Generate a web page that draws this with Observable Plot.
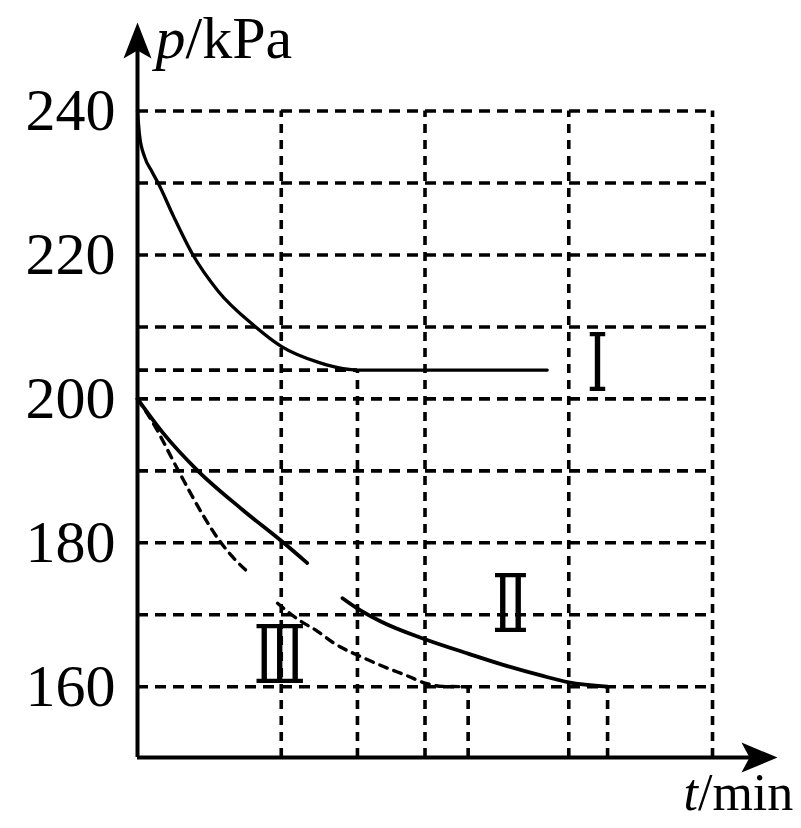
<!DOCTYPE html>
<html><head><meta charset="utf-8">
<script src="https://cdn.jsdelivr.net/npm/d3@7"></script>
<script src="https://cdn.jsdelivr.net/npm/@observablehq/plot@0.6"></script>
<style>html,body{margin:0;padding:0;background:#fff}</style>
</head><body><div id="chart"></div>
<script>
// ---- data ----
const yTicks = [160, 180, 200, 220, 240];
const gridP = [160, 170, 180, 190, 200, 210, 220, 230, 240];
const gridT = [1, 2, 3, 4];

// curve I
const tI = [0, 0.015, 0.05, 0.1, 0.146, 0.25, 0.38, 0.56, 0.81, 1.0, 1.27, 1.43, 1.53, 2.85];
const pI = [240, 236.5, 233.6, 231.6, 229.9, 225.4, 220.2, 215, 210.2, 207.3, 205, 204.2, 204, 204];
// curve II (solid, two pieces)
const tIIa = [0, 0.18, 0.42, 0.73, 1.016, 1.18];
const pIIa = [200, 195.2, 190, 184.6, 180, 177.2];
const tIIb = [1.426, 1.52, 1.7, 2.0, 2.3, 2.55, 2.8, 3.0, 3.27];
const pIIb = [172.3, 171.0, 169.0, 166.6, 164.6, 163.0, 161.6, 160.6, 160];
// curve III (dashed, two pieces)
const tIIIa = [0, 0.104, 0.285, 0.46, 0.577, 0.668, 0.786];
const pIIIa = [200, 196.8, 190, 183.7, 180.1, 177.9, 175.6];
const tIIIb = [0.974, 1.113, 1.252, 1.363, 1.572, 1.711, 1.878, 2.0, 2.12, 2.3];
const pIIIb = [171.6, 169.4, 167.7, 166.1, 164.0, 162.8, 161.5, 160.5, 160.05, 160];

// reference / drop lines
const plateauI = 204;
const dropT = [1.53, 2.30, 3.27];
const dropP = [204, 160, 160];

// curve labels
const labelText = ["Ⅰ", "Ⅱ", "Ⅲ"];
const labelT = [3.2, 2.595, 0.99];
const labelP = [205.2, 171.8, 164.75];

// scale extents
const xDomain = [0, 4.452];
const yDomain = [150.16, 252.31];

// ---- build ----
const rows = (ts, ps) => ts.map((t, i) => ({t, p: ps[i]}));
const drops = dropT.map((t, i) => ({t, p: dropP[i]}));
const labels = labelText.map((s, i) => ({s, t: labelT[i], p: labelP[i]}));

const arrowUp = {draw(ctx) { ctx.moveTo(0, 0); ctx.lineTo(14, 36); ctx.lineTo(0, 28); ctx.lineTo(-14, 36); ctx.closePath(); }};
const arrowRight = {draw(ctx) { ctx.moveTo(0, 0); ctx.lineTo(-36, -15); ctx.lineTo(-28, 0); ctx.lineTo(-36, 15); ctx.closePath(); }};

const gridStyle = {stroke: "#000", strokeWidth: 3.6};
const chart = Plot.plot({
  width: 801,
  height: 828,
  marginLeft: 137,
  marginRight: 24,
  marginTop: 22,
  marginBottom: 71,
  style: {fontFamily: "'Liberation Serif', 'DejaVu Serif', serif", fontSize: "60px", background: "#fff", color: "#000"},
  x: {domain: xDomain, axis: null},
  y: {domain: yDomain, ticks: yTicks, tickSize: 0, tickPadding: 22, label: null, tickFormat: d => String(d)},
  marks: [
    Plot.ruleY(gridP, {x1: 0, x2: 4, y: d => d, ...gridStyle, strokeDasharray: "11,7"}),
    Plot.ruleY([plateauI], {x1: 0, x2: dropT[0], y: d => d, ...gridStyle, strokeDasharray: "11,7"}),
    Plot.ruleX(gridT, {x: d => d, y1: yDomain[0], y2: 240, ...gridStyle, strokeDasharray: "9,7"}),
    Plot.ruleX(drops, {x: "t", y1: yDomain[0], y2: "p", ...gridStyle, strokeDasharray: "9,7"}),
    Plot.line(rows(tI, pI), {x: "t", y: "p", curve: "monotone-x", stroke: "#000", strokeWidth: 3.3}),
    Plot.line(rows(tIIa, pIIa), {x: "t", y: "p", curve: "monotone-x", stroke: "#000", strokeWidth: 3.8}),
    Plot.line(rows(tIIb, pIIb), {x: "t", y: "p", curve: "monotone-x", stroke: "#000", strokeWidth: 3.8}),
    Plot.line(rows(tIIIa, pIIIa), {x: "t", y: "p", curve: "monotone-x", stroke: "#000", strokeWidth: 3.4, strokeDasharray: "8,7"}),
    Plot.line(rows(tIIIb, pIIIb), {x: "t", y: "p", curve: "monotone-x", stroke: "#000", strokeWidth: 3.4, strokeDasharray: "8,7"}),
    Plot.ruleX([0], {y1: yDomain[0], y2: yDomain[1] - 2, stroke: "#000", strokeWidth: 4}),
    Plot.ruleY([yDomain[0]], {x1: 0, x2: xDomain[1] - 0.1, stroke: "#000", strokeWidth: 4}),
    Plot.dot([{t: 0, p: yDomain[1]}], {x: "t", y: "p", symbol: arrowUp, fill: "#000", stroke: "none"}),
    Plot.dot([{t: xDomain[1], p: yDomain[0]}], {x: "t", y: "p", symbol: arrowRight, fill: "#000", stroke: "none"}),
    Plot.text(labels, {x: "t", y: "p", text: "s", dy: 30, fontFamily: "'DejaVu Serif', serif", fontSize: 80, fill: "#000", className: "roman"}),
    Plot.text(["p/kPa"], {text: d => d, frameAnchor: "top-left", textAnchor: "start", lineAnchor: "top", dx: 18, dy: -7, fontSize: 60, fill: "#000", className: "ylab"}),
    Plot.text(["t/min"], {text: d => d, frameAnchor: "bottom-right", textAnchor: "start", lineAnchor: "top", dx: -94, dy: 16, fontSize: 52, fill: "#000", className: "xlab"})
  ]
});

// condense roman numerals
chart.querySelectorAll(".roman text").forEach(el => {
  const tr = el.getAttribute("transform") || "";
  const x = +el.getAttribute("x") || 0, y = +el.getAttribute("y") || 0;
  el.removeAttribute("x"); el.removeAttribute("y");
  el.setAttribute("transform", `${tr} translate(${x},${y}) scale(0.68,1)`);
});
// italic quantity symbols
[[".ylab text", "p", "/kPa"], [".xlab text", "t", "/min"]].forEach(([sel, sym, unit]) => {
  chart.querySelectorAll(sel).forEach(el => {
    el.textContent = "";
    const a = document.createElementNS("http://www.w3.org/2000/svg", "tspan");
    a.setAttribute("font-style", "italic"); a.textContent = sym;
    const b = document.createElementNS("http://www.w3.org/2000/svg", "tspan");
    b.textContent = unit;
    el.appendChild(a); el.appendChild(b);
  });
});
document.getElementById("chart").appendChild(chart);
</script>
</body></html>
